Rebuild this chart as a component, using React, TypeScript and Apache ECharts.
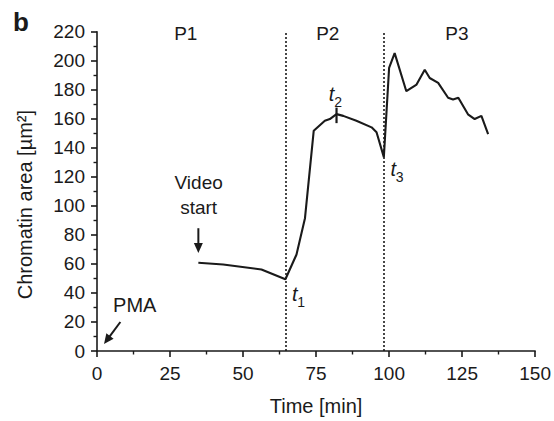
import React, { useEffect, useRef } from 'react';
import * as echarts from 'echarts';

// Time [min] and chromatin area [µm²]
const times = [34.7, 43.2, 56.3, 64.5, 68.3, 71.2, 74.2, 78.0, 79.7, 82.0, 84.3, 88.8, 94.0, 95.7, 98.2, 100.0, 101.9, 105.9, 109.4, 112.2, 113.9, 116.8, 120.2, 121.9, 123.7, 127.0, 129.3, 131.6, 133.9];
const area = [60.8, 59.6, 56.2, 49.4, 66.5, 91.5, 151.8, 158.6, 159.8, 163.2, 162.0, 158.6, 154.1, 150.7, 133.6, 195.0, 205.2, 179.0, 183.6, 193.8, 188.1, 184.7, 174.5, 173.3, 174.5, 163.1, 159.8, 162.0, 149.5];

// Period boundaries (dotted lines) and period labels
const boundaries = [64.5, 98.2];
const periodLabels = ['P1', 'P2', 'P3'];
const periodLabelX = [30.4, 79, 123.2];
const periodLabelY = 219;

const FONT = '"Liberation Sans", Arial, Helvetica, sans-serif';
const INK = '#1a1a1a';

export default function App() {
  const ref = useRef<HTMLDivElement>(null);
  useEffect(() => {
    if (!ref.current) return;
    document.body.style.margin = '0';
    const chart = echarts.init(ref.current, null, { renderer: 'svg' });
    const axisCommon = {
      axisLine: { show: true, lineStyle: { color: INK, width: 1.6 } },
      axisTick: { show: true, length: 6, lineStyle: { color: INK, width: 1.6 } },
      minorTick: { show: true, splitNumber: 2, length: 3.5, lineStyle: { color: INK, width: 1.4 } },
      splitLine: { show: false },
      minorSplitLine: { show: false },
      axisLabel: { color: INK, fontSize: 19, fontFamily: FONT },
      nameTextStyle: { color: INK, fontSize: 20, fontFamily: FONT },
    };
    chart.setOption({
      animation: false,
      grid: { left: 97, right: 18.5, top: 31.7, bottom: 67, containLabel: false },
      xAxis: {
        type: 'value', min: 0, max: 150, interval: 25,
        name: 'Time [min]', nameLocation: 'middle', nameGap: 45,
        ...axisCommon,
        axisLabel: { ...axisCommon.axisLabel, margin: 13 },
      },
      yAxis: {
        type: 'value', min: 0, max: 220, interval: 20,
        ...axisCommon,
        axisLabel: { ...axisCommon.axisLabel, margin: 12 },
      },
      series: [{
        type: 'line',
        data: times.map((t, i) => [t, area[i]]),
        symbol: 'none',
        lineStyle: { color: INK, width: 2.1 },
        markLine: {
          silent: true,
          symbol: 'none',
          label: { show: false },
          lineStyle: { color: INK, type: [2, 2], width: 1.6 },
          data: boundaries.map((b) => ({ xAxis: b })),
        },
      }],
    });

    const px = (t: number, v: number) => chart.convertToPixel({ gridIndex: 0 }, [t, v]) as number[];
    const styleOf = (s: string, font: string, align = 'center') => ({
      text: s, fill: INK, font,
      textAlign: align, align, textVerticalAlign: 'middle', verticalAlign: 'middle',
    });
    const text = (t: number, v: number, s: string, size: number, align = 'center', lineHeight?: number) => {
      const [x, y] = px(t, v);
      return { type: 'text', x, y, silent: true, style: { ...styleOf(s, `${size}px ${FONT}`, align), lineHeight } };
    };
    const arrow = (t0: number, v0: number, t1: number, v1: number) => {
      const [x0, y0] = px(t0, v0);
      const [x1, y1] = px(t1, v1);
      const dx = x1 - x0, dy = y1 - y0;
      const len = Math.hypot(dx, dy);
      const ux = dx / len, uy = dy / len;
      const hl = 10, hw = 4.5;
      const bx = x1 - ux * hl, by = y1 - uy * hl;
      return [
        { type: 'line', silent: true, shape: { x1: x0, y1: y0, x2: bx + ux * 2, y2: by + uy * 2 }, style: { stroke: INK, lineWidth: 2 } },
        { type: 'polygon', silent: true, shape: { points: [[x1, y1], [bx - uy * hw, by + ux * hw], [bx + uy * hw, by - ux * hw]] }, style: { fill: INK } },
      ];
    };
    const sub = (t: number, v: number, n: string) => {
      const [x, y] = px(t, v);
      return [
        { type: 'text', x, y, silent: true, style: styleOf('t', `italic 20px ${FONT}`) },
        { type: 'text', x: x + 6.5, y: y + 8, silent: true, style: styleOf(n, `14px ${FONT}`) },
      ];
    };
    const [mx, my0] = px(82.0, 167.7);
    const [, my1] = px(82.0, 157.0);
    const [, yMid] = px(0, 105);

    chart.setOption({
      graphic: [
        { type: 'text', x: 13, y: 22, silent: true, style: styleOf('b', `bold 26px ${FONT}`, 'left') },
        { type: 'text', x: 25, y: yMid + 6, rotation: Math.PI / 2, silent: true, style: styleOf('Chromatin area [µm²]', `20px ${FONT}`) },
        ...periodLabels.map((p, i) => text(periodLabelX[i], periodLabelY, p, 19)),
        text(34.8, 107.5, 'Video\nstart', 19, 'center', 25),
        ...arrow(34.7, 84.6, 34.7, 67.6),
        text(5.5, 31.5, 'PMA', 20, 'left'),
        ...arrow(8.0, 20.0, 2.4, 4.8),
        ...sub(67.7, 39.1, '1'),
        ...sub(80.3, 176.8, '2'),
        ...sub(101.4, 125.6, '3'),
        { type: 'line', silent: true, shape: { x1: mx, y1: my0, x2: mx, y2: my1 }, style: { stroke: INK, lineWidth: 2.2 } },
      ],
    });
    return () => chart.dispose();
  }, []);
  return <div ref={ref} style={{ position: 'fixed', left: 0, top: 0, width: 554, height: 421, background: '#fff' }} />;
}
